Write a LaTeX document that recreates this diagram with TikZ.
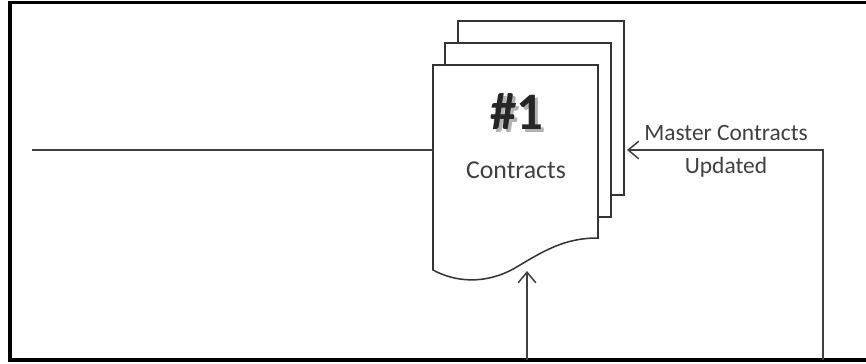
\documentclass[tikz,border=0pt]{standalone}
\usepackage{fontspec}
\setmainfont{Carlito}
\usetikzlibrary{arrows.meta}

\begin{document}
\begin{tikzpicture}[x=0.03cm,y=-0.03cm,line width=1.3pt,color=black!75,
    flow/.style={-{Straight Barb[length=9pt,width=15pt]}},
    sheet/.style={draw=black!80,fill=white},
    big/.style={font=\fontsize{45}{45}\selectfont\bfseries}]
        \useasboundingbox (0,0) rectangle (866,364) ;
        \draw[line width=2.6pt,color=black] (866,2.5) -- (10,2.5) -- (10,360) -- (866,360) ;
        % stacked sheets, back to front
        \draw[sheet] (458,21) rectangle (624,195) ;
        \draw[sheet] (445,43) rectangle (611,217) ;
        \draw[sheet] (433,270) -- (433,65) -- (598,65) -- (598,238)
          .. controls (565,238) and (545,250) .. (515,268)
          .. controls (485,285) and (455,282) .. (433,270) -- cycle ;
        \node[big,color=black!30] at (519.5,114.5) {\#1} ;
        \node[big,color=black!85] (num) at (517,112) {\#1} ;
        \node[font=\fontsize{22}{22}\selectfont] (name) at (516,170) {Contracts} ;
        \node[align=center,font=\fontsize{20}{28}\selectfont] (upd) at (726,151)
          {Master Contracts\\Updated} ;
        % connectors
        \coordinate (in-w) at (32,150) ;
        \coordinate (sheet-w) at (433,150) ;
        \coordinate (sheet-e) at (627,150) ;
        \coordinate (corner) at (823,150) ;
        \coordinate (foot-e) at (823,360) ;
        \coordinate (sheet-s) at (527,271) ;
        \coordinate (foot-s) at (527,360) ;
        \draw (in-w) -- (sheet-w) ;
        \draw[flow] (foot-e) -- (corner) -- (sheet-e) ;
        \draw[flow] (foot-s) -- (sheet-s) ;
      \end{tikzpicture}
\end{document}
